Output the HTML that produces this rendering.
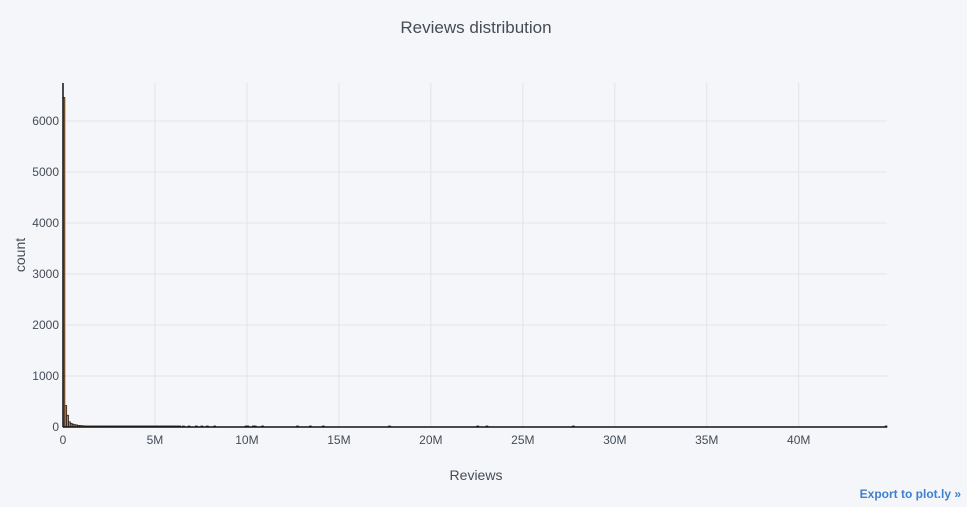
<!DOCTYPE html>
<html><head><meta charset="utf-8"><style>
body{margin:0;background:#f5f6fa;font-family:"Liberation Sans",sans-serif}
svg text{font-family:"Liberation Sans",sans-serif}
</style></head><body>
<svg id="c" width="967" height="502">
<rect width="967" height="502" fill="#f5f6fa"/>
<text x="476" y="33" text-anchor="middle" font-size="17" fill="#444c56">Reviews distribution</text>
<g id="grid"></g><g id="bars"></g><g id="axes"></g>
<text x="476" y="480" text-anchor="middle" font-size="14" fill="#444c56">Reviews</text>
<text transform="translate(25,255) rotate(-90)" text-anchor="middle" font-size="14" fill="#444c56">count</text>
<text x="961" y="498" text-anchor="end" font-size="12" font-weight="bold" fill="#3d7fd1">Export to plot.ly »</text>
</svg>
<script>
const binSize = 100000;
const binCounts = [6460,420,230,100,70,55,45,40,30,28,25,22,20,18,16,15,14,12,10,10,9,8,8,7,6,6,5,5,4,4,3,3,3,3,2,2,2,2,2,2,2,2,2,2,2,2,1,1,1,1,2,1,1,1,1,1,1,1,2,1,1,1,1,1];
const sparseBins = [65,68,72,75,78,82,99,100,103,104,108,127,134,141,177,225,230,277,447];
const xTicks = [0,5e6,10e6,15e6,20e6,25e6,30e6,35e6,40e6];
const xTickLabels = ["0","5M","10M","15M","20M","25M","30M","35M","40M"];
const yTicks = [0,1000,2000,3000,4000,5000,6000];
const x0=63,x1=887,y0=427,y1=83,xMax=44.8e6,yMax=6745;
const xs=v=>x0+v/xMax*(x1-x0), ys=v=>y0-v/yMax*(y0-y1);
const NS="http://www.w3.org/2000/svg";
const mk=(t,a,p)=>{const e=document.createElementNS(NS,t);for(const k in a)e.setAttribute(k,a[k]);p.appendChild(e);return e;};
const g=document.getElementById('grid'),b=document.getElementById('bars'),ax=document.getElementById('axes');
xTicks.forEach((v,i)=>{
  if(v>0){const l=mk('line',{x1:xs(v),x2:xs(v),y1:y1,y2:y0,stroke:'#e1e4ea'},g);
  
  }
  const t=mk('text',{x:xs(v),y:y0+17,'text-anchor':'middle','font-size':12,fill:'#444c56'},ax);t.textContent=xTickLabels[i];
  
  
});
yTicks.forEach(v=>{
  if(v>0){const l=mk('line',{x1:x0,x2:x1,y1:ys(v),y2:ys(v),stroke:'#e1e4ea'},g);
  
  }
  const t=mk('text',{x:x0-4,y:ys(v)+4,'text-anchor':'end','font-size':12,fill:'#444c56'},ax);t.textContent=v;
  
  
});
function bar(i,c){
  const x=xs(i*binSize),w=xs((i+1)*binSize)-x,h=Math.max(y0-ys(c),1);
  const r=mk('rect',{x:x,y:y0-h,width:w,height:h,fill:'#d9843b',stroke:'#222','stroke-width':0.8},b);
  
  
}
binCounts.forEach((c,i)=>bar(i,c));
sparseBins.forEach(i=>bar(i,1));
const xl=mk('line',{x1:x0,x2:x1,y1:y0,y2:y0,stroke:'#111','stroke-width':1.5},ax);


const yl=mk('line',{x1:x0,x2:x0,y1:y1,y2:y0,stroke:'#111','stroke-width':1.5},ax);


</script>
</body></html>
